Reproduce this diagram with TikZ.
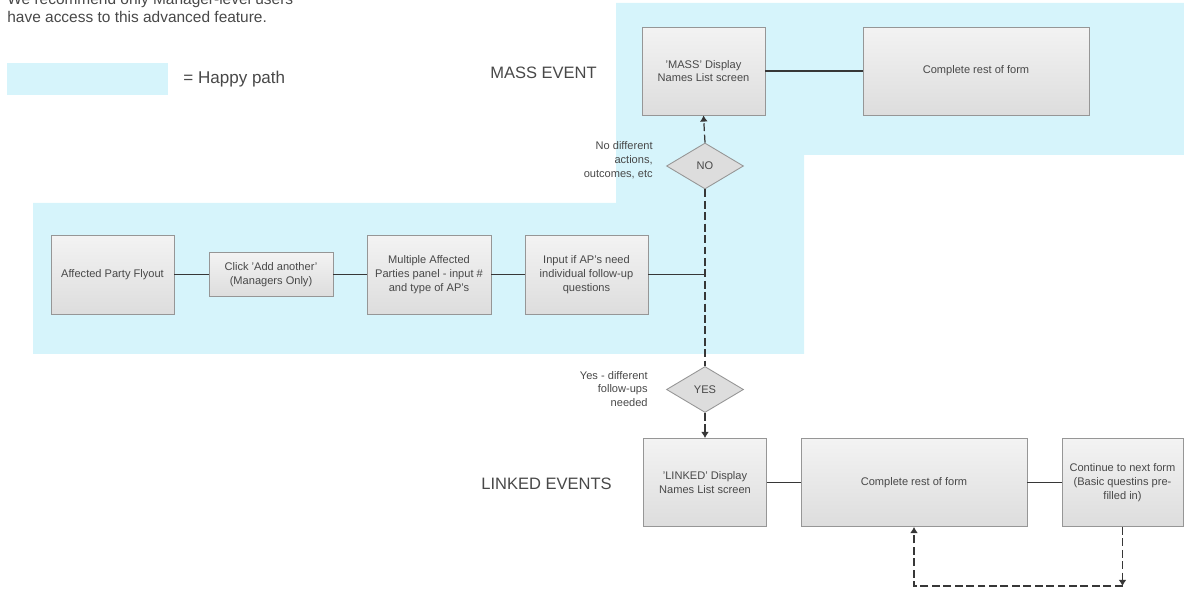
\documentclass[tikz,border=0pt]{standalone}
\usepackage{fontspec}
\setmainfont{Liberation Sans}
\usetikzlibrary{arrows.meta, shapes.geometric, positioning}
\definecolor{happy}{RGB}{214,244,251}
\definecolor{boxtop}{RGB}{243,243,243}
\definecolor{boxbot}{RGB}{221,221,221}
\definecolor{boxline}{RGB}{150,150,150}
\definecolor{txtgray}{RGB}{72,72,72}
\definecolor{wire}{RGB}{55,55,55}
\newcommand{\boxfont}{\fontsize{6.3}{7.9}\selectfont}
\newcommand{\headfont}{\fontsize{9.4}{11}\selectfont}
\newcommand{\memofont}{\fontsize{8.8}{10.4}\selectfont}

\begin{document}
\begin{tikzpicture}[x=0.02cm, y=-0.02cm,
	stepbox/.style={draw=boxline, line width=0.5pt, top color=boxtop, bottom color=boxbot,
		text=txtgray, font=\boxfont, align=center, inner sep=1pt,
		minimum width=24.6mm, minimum height=15.8mm},
	decision/.style={diamond, draw=boxline, line width=0.5pt, fill=boxbot, text=txtgray,
		font=\boxfont, minimum width=15.4mm, minimum height=9.2mm, inner sep=0pt},
	note/.style={text=txtgray, font=\boxfont, align=right, anchor=east, inner sep=0pt},
	heading/.style={text=txtgray, font=\headfont, inner sep=0pt},
	link/.style={draw=wire, line width=0.7pt},
	dashline/.style={link, dash pattern=on 4.5pt off 2pt},
	jump/.style={dashline, -{Latex[length=3.5pt,width=4.5pt]}}]
	\useasboundingbox (0,0) rectangle (1184,591);

	\fill[happy] (33,203) -- (616,203) -- (616,3) -- (1184,3) -- (1184,155)
		-- (804,155) -- (804,354) -- (33,354) -- cycle;
	\fill[happy] (7,63) rectangle (168,95);

	\node[anchor=base west, align=left, inner sep=0pt, text=txtgray, font=\memofont] (memo) at (7,23)
		{We recommend only Manager-level users\\have access to this advanced feature.};
	\node[heading, anchor=west, font=\fontsize{9.7}{11}\selectfont] (legend) at (183,79) {= Happy path};
	\node[heading] (massevent) at (543.5,73) {MASS EVENT};
	\node[heading] (linkedevents) at (546.5,484) {LINKED EVENTS};

	\node[stepbox] (flyout) at (112.5,274.5) {Affected Party Flyout};
	\node[stepbox, minimum width=24.8mm, minimum height=8.8mm] (addanother) at (271,274.5)
		{Click 'Add another'\\(Managers Only)};
	\node[stepbox, minimum width=24.8mm] (multiap) at (429,274.5)
		{Multiple Affected\\Parties panel - input \#\\and type of AP's};
	\node[stepbox] (followup) at (586.5,274.5) {Input if AP's need\\individual follow-up\\questions};

	\node[decision] (no) at (705,166) {NO};
	\node[decision] (yes) at (705,389.5) {YES};
	\node[note] (nonote) at (653,160) {No different\\actions,\\outcomes, etc};
	\node[note] (yesnote) at (648,389) {Yes - different\\follow-ups\\needed};

	\node[stepbox, minimum height=17.6mm] (massnames) at (703.5,71) {'MASS' Display\\Names List screen};
	\node[stepbox, minimum width=45.2mm, minimum height=17.6mm] (massform) at (976,71) {Complete rest of form};

	\node[stepbox, minimum height=17.6mm] (linkednames) at (705,482.5) {'LINKED' Display\\Names List screen};
	\node[stepbox, minimum width=45.2mm, minimum height=17.6mm] (linkedform) at (914,482.5) {Complete rest of form};
	\node[stepbox, minimum width=24.2mm, minimum height=17.6mm] (nextform) at (1122.5,482.5)
		{Continue to next form\\(Basic questins pre-\\filled in)};

	\coordinate (split) at (followup.east -| no.south);
	\coordinate (loopend) at (1122.5,586);

	\draw[link] (flyout) -- (addanother);
	\draw[link] (addanother) -- (multiap);
	\draw[link] (multiap) -- (followup);
	\draw[link] (followup) -- (split);
	\draw[dashline] (no.south) -- (yes.north);
	\draw[jump] (no.north) -- (massnames.south);
	\draw[jump] (yes.south) -- (linkednames.north);
	\draw[link] (massnames) -- (massform);
	\draw[link] (linkednames) -- (linkedform);
	\draw[link] (linkedform) -- (nextform);
	\draw[jump] (nextform.south) -- (loopend);
	\draw[jump] (loopend) -| (linkedform.south);
\end{tikzpicture}
\end{document}
